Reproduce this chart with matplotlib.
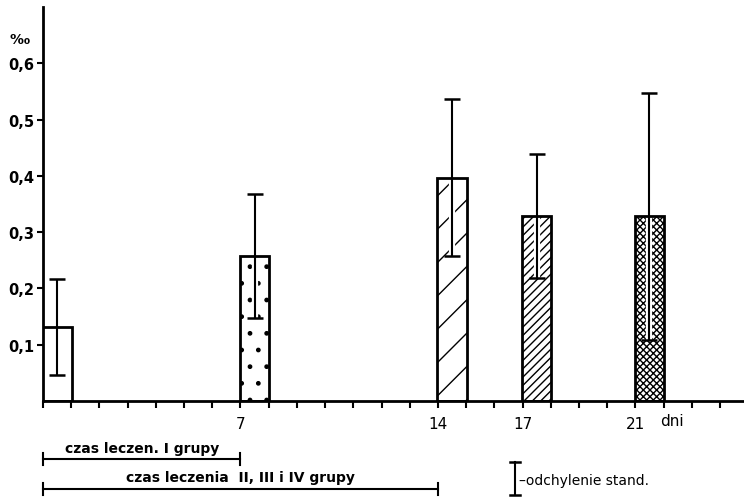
import matplotlib
matplotlib.use("Agg")
import matplotlib.pyplot as plt
import matplotlib.transforms as mtransforms

# ---- data ----
days = [0, 7, 14, 17, 21]
means = [0.132, 0.258, 0.397, 0.328, 0.328]
sds = [0.085, 0.110, 0.140, 0.110, 0.220]
hatches = ['', '.', '/', '////', 'xxxxx']
tick_days = [7, 14, 17, 21]
yticks = [0.1, 0.2, 0.3, 0.4, 0.5, 0.6]
ytick_labels = ['0,1', '0,2', '0,3', '0,4', '0,5', '0,6']
periods = [(0, 7, 'czas leczen. I grupy'), (0, 14, 'czas leczenia  II, III i IV grupy')]

plt.rcParams['hatch.linewidth'] = 1.0
fig = plt.figure(figsize=(7.44, 5.02), dpi=100)
ax = fig.add_axes([43/744, 100/502, 701/744, 394/502])

centers = [d + 0.5 for d in days]
for c, m, h in zip(centers, means, hatches):
    ax.bar(c, m, width=1.05, facecolor='white', edgecolor='black',
           linewidth=0, hatch=h, zorder=2)
ax.errorbar(centers, means, yerr=sds, fmt='none', ecolor='white',
            elinewidth=4.5, capsize=0, zorder=3)
ax.bar(centers, means, width=1.05, fill=False, edgecolor='black',
       linewidth=2, zorder=3.5)
ax.errorbar(centers, means, yerr=sds, fmt='none', ecolor='black',
            elinewidth=1.5, capsize=6, capthick=1.8, zorder=4)

ax.set_xlim(0, 24.85)
ax.set_ylim(0, 0.70)
for s in ['top', 'right']:
    ax.spines[s].set_visible(False)
for s in ['left', 'bottom']:
    ax.spines[s].set_linewidth(2)
    ax.spines[s].set_zorder(5)

ax.set_xticks(range(0, 25))
ax.set_xticklabels(['' if d not in tick_days else str(d) for d in range(0, 25)],
                   fontsize=11)
ax.tick_params(axis='x', direction='out', length=5, width=1.5, pad=6)
ax.set_yticks(yticks)
ax.set_yticklabels(ytick_labels, fontsize=10.5, fontweight='bold')
ax.tick_params(axis='y', direction='out', length=4, width=1.5, pad=2)

trans_xfig = mtransforms.blended_transform_factory(ax.transData, fig.transFigure)
ax.text(22.3, 1 - 422/502, 'dni', transform=trans_xfig, fontsize=11,
        ha='center', va='center')
ax.text(-0.033, 0.643, '‰', transform=mtransforms.blended_transform_factory(ax.transAxes, ax.transData),
        fontsize=10, fontweight='bold', ha='center', va='center')

# treatment periods
line_y = [460, 490]
text_y = [449, 478]
for (a, b, lab), ly, ty in zip(periods, line_y, text_y):
    yl = 1 - ly/502
    ax.plot([a, b], [yl, yl], color='black', lw=1.5, transform=trans_xfig, clip_on=False)
    for xx in (a, b):
        ax.plot([xx, xx], [yl + 6/502, yl - 6/502], color='black', lw=1.5,
                transform=trans_xfig, clip_on=False)
    ax.text((a + b) / 2, 1 - ty/502, lab, transform=trans_xfig, fontsize=10,
            fontweight='bold', ha='center', va='center')

# legend for error bar
lx = (515 - 44.6) / 28.1
ax.plot([lx, lx], [1 - 463/502, 1 - 496/502], color='black', lw=1.5,
        transform=trans_xfig, clip_on=False)
for yy in (463, 496):
    ax.plot([lx - 0.18, lx + 0.18], [1 - yy/502, 1 - yy/502], color='black', lw=1.8,
            transform=trans_xfig, clip_on=False)
ax.text(lx + 0.15, 1 - 481/502, '–odchylenie stand.', transform=trans_xfig,
        fontsize=10, ha='left', va='center')

fig.savefig('out.png', dpi=100)
